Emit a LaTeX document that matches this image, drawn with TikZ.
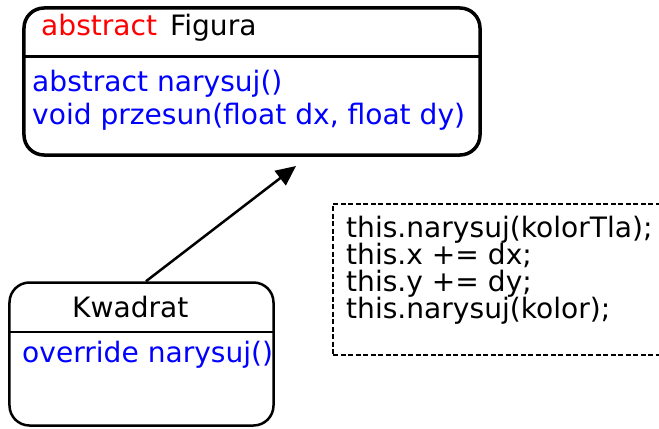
\documentclass[tikz,border=0pt]{standalone}
\usepackage{fontspec}
\setmainfont{DejaVu Sans}
\usetikzlibrary{arrows.meta}

\begin{document}
\begin{tikzpicture}[x=1bp, y=1bp,
classbox/.style={draw, fill=white, rectangle, rounded corners=20bp, inner sep=0pt},
notebox/.style={draw, rectangle, inner sep=0pt, line width=2bp, dash pattern=on 5bp off 2.5bp},
txt/.style={anchor=base west, inner sep=0pt, font=\fontsize{28.2}{33}\selectfont},
meth/.style={txt, text=blue}]

\useasboundingbox (0,0) rectangle (659,428);

\node[classbox, line width=3.5bp, minimum width=456bp, minimum height=147bp] 	(figura) at (252,346.5) {};
\node[classbox, line width=2.5bp, minimum width=264bp, minimum height=143bp] 	(kwadrat) at (141.5,74) {};
\node[notebox, minimum width=347bp, minimum height=151bp] 	(note) at (506.5,148.5) {};

\draw[line width=3bp] (figura.west |- 0,372) -- (figura.east |- 0,372);
\draw[line width=2.5bp] (kwadrat.west |- 0,96) -- (kwadrat.east |- 0,96);

\node[txt, text=red]	(abs) at (41,392)	{abstract};
\node[txt]		(fname) at (170,392)	{Figura};
\node[meth]		(m1) at (32,337)	{abstract narysuj()};
\node[meth]		(m2) at (32,304)	{void przesun(float dx, float dy)};

\node[txt]		(kname) at (72,111)	{Kwadrat};
\node[meth]		(m3) at (22,66)		{override narysuj()};

\node[txt]		(n1) at (346,191)	{this.narysuj(kolorTla);};
\node[txt]		(n2) at (346,164)	{this.x += dx;};
\node[txt]		(n3) at (346,137)	{this.y += dy;};
\node[txt]		(n4) at (346,110)	{this.narysuj(kolor);};

\coordinate (tip) at (296,262);
\draw[-{Triangle[length=20bp, width=18bp]}, line width=2.5bp] ([xshift=4.5bp]kwadrat.north) -- (tip);

\end{tikzpicture}
\end{document}
